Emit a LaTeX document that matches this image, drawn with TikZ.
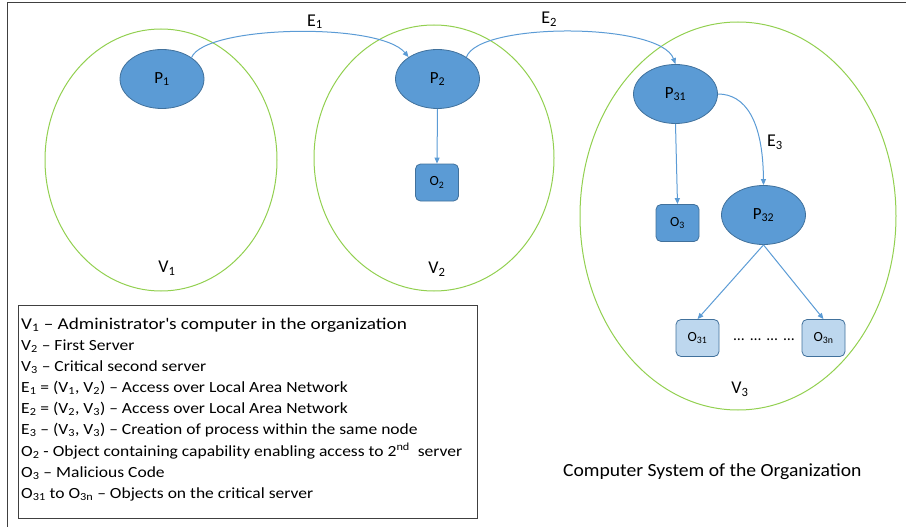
\documentclass[tikz,border=0pt]{standalone}
\usepackage{fontspec}
\setmainfont{Carlito}
\newfontfamily\legendfont[FakeStretch=1.13]{Carlito}
\newfontfamily\legendwidefont[FakeStretch=1.165]{Carlito}
\newfontfamily\captionfont[FakeStretch=1.06]{Carlito}
\usetikzlibrary{arrows.meta,shapes.geometric}
\definecolor{procfill}{HTML}{5B9BD5}
\definecolor{procline}{HTML}{41719C}
\definecolor{lightobj}{HTML}{BDD7EE}
\definecolor{zone}{HTML}{92D050}
\definecolor{framegray}{HTML}{404040}
\begin{document}
\begin{tikzpicture}[x=1pt,y=-1pt,
  proc/.style={ellipse, draw=procline, fill=procfill, line width=0.8pt,
    minimum width=84pt, minimum height=59pt, inner sep=0pt,
    font=\fontsize{17}{20}\selectfont},
  obj/.style={rectangle, rounded corners=5pt, draw=procline, fill=procfill,
    line width=0.8pt, minimum width=43pt, minimum height=37pt, inner sep=0pt,
    font=\fontsize{14}{16}\selectfont},
  lobj/.style={obj, fill=lightobj},
  zonering/.style={draw=zone, line width=1pt},
  link/.style={draw=procfill, line width=1pt, -{Triangle[length=6pt,width=5pt]}},
  lbl/.style={font=\fontsize{18}{20}\selectfont, inner sep=0pt},
  legend/.style={anchor=base west, inner sep=0pt, font=\legendfont\fontsize{15.5}{18}\selectfont}]
\useasboundingbox (0,0) rectangle (906,527);

% outer frame (top and left edges only)
\draw[framegray, line width=1.2pt] (7.5,527) -- (7.5,2.5) -- (906,2.5);

% machines
\draw[zonering] (161,160) ellipse [x radius=116, y radius=131];
\draw[zonering] (434,158) ellipse [x radius=120, y radius=133];
\draw[zonering] (738,216) ellipse [x radius=158, y radius=194];

% processes and objects
\node[proc] (P1) at (162,79) {P\textsubscript{1}};
\node[proc] (P2) at (437.5,79) {P\textsubscript{2}};
\node[proc] (P31) at (675.5,94) {P\textsubscript{31}};
\node[proc] (P32) at (763.5,215) {P\textsubscript{32}};
\node[obj] (O2) at (437,182.5) {\raisebox{-3pt}{O\textsubscript{2}}};
\node[obj] (O3) at (677.5,223) {\raisebox{-3pt}{O\textsubscript{3}}};
\node[lobj] (O31) at (697.5,338) {O\textsubscript{31}};
\node[lobj] (O3n) at (823.5,338) {O\textsubscript{3n}};
\node[font=\fontsize{15.5}{18}\selectfont, inner sep=0pt] (dots) at (764,340)
  {\dots\hspace{6pt}\dots\hspace{6pt}\dots\hspace{6pt}\dots};

% machine labels
\node[lbl] (V1) at (167,268) {V\textsubscript{1}};
\node[lbl] (V2) at (437,269) {V\textsubscript{2}};
\node[lbl] (V3) at (740,389) {V\textsubscript{3}};

% connectors
\draw[link] (P1.36) .. controls (205,25) and (380,22) .. (P2.143)
  node[lbl, pos=0.57, above=3pt] (E1) {E\textsubscript{1}};
\draw[link] (P2.37) .. controls (478,22) and (660,22) .. (P31.north)
  node[lbl, pos=0.43, above=5pt] (E2) {E\textsubscript{2}};
\draw[link] (P31.east) .. controls (745,94) and (763,120) .. (P32.north);
\node[lbl] (E3) at (775,142) {E\textsubscript{3}};
\draw[link] (P2.south) -- (O2.north);
\draw[link] (P31.south) -- (O3.north);
\draw[link] (P32.south) -- (O31.north);
\draw[link] (P32.south) -- (O3n.north);

% legend
\draw[framegray, line width=0.9pt] (18,305) rectangle (477,518);
\node[legend, font=\legendwidefont\fontsize{16.5}{18}\selectfont] (l1) at (21,329.0) {V\textsubscript{1} – Administrator\textquotesingle s computer in the organization};
\node[legend] (l2) at (21,350.2) {V\textsubscript{2} – First Server};
\node[legend] (l3) at (21,371.3) {V\textsubscript{3} – Critical second server};
\node[legend] (l4) at (21,392.5) {E\textsubscript{1} = (V\textsubscript{1}, V\textsubscript{2}) – Access over Local Area Network};
\node[legend] (l5) at (21,413.6) {E\textsubscript{2} = (V\textsubscript{2}, V\textsubscript{3}) – Access over Local Area Network};
\node[legend] (l6) at (21,434.8) {E\textsubscript{3} – (V\textsubscript{3}, V\textsubscript{3}) – Creation of process within the same node};
\node[legend] (l7) at (21,456.0) {O\textsubscript{2} - Object containing capability enabling access to 2\textsuperscript{nd}\ \ server};
\node[legend] (l8) at (21,477.1) {O\textsubscript{3} – Malicious Code};
\node[legend] (l9) at (21,498.3) {O\textsubscript{31} to O\textsubscript{3n} – Objects on the critical server};

\node[anchor=base west, inner sep=0pt, font=\captionfont\fontsize{18.5}{20}\selectfont] (caption) at (563,476) {Computer System of the Organization};
\end{tikzpicture}
\end{document}
